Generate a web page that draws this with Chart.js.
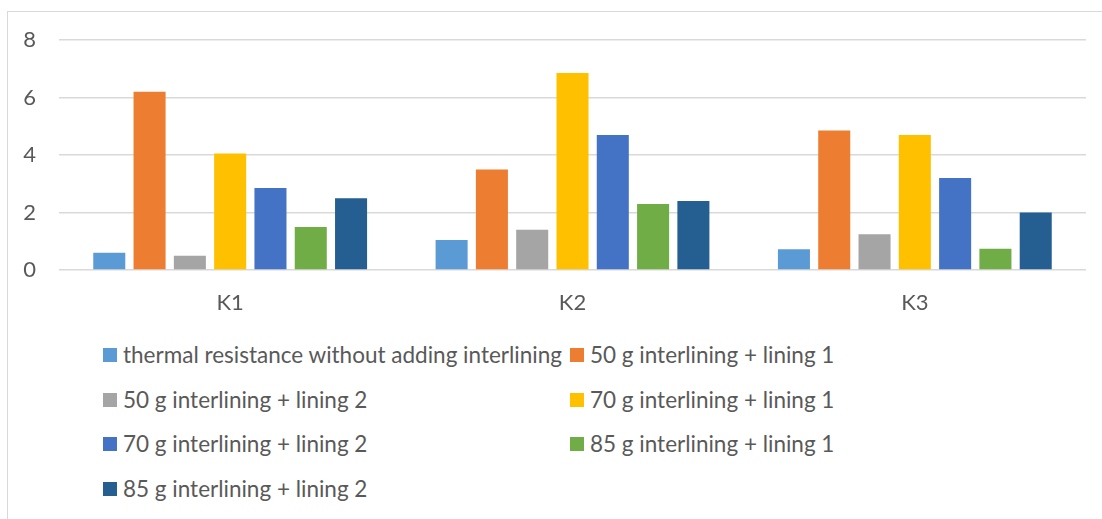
<!DOCTYPE html>
<html lang="en">
<head>
    <meta charset="UTF-8">
    <title>Thermal resistance K1 - K3</title>
    <script src="https://cdn.jsdelivr.net/npm/chart.js"></script>
    <style>
        body { margin: 0; padding: 0; background: #fff; font-family: Lato, sans-serif; }
        #page { position: relative; width: 1102px; height: 519px; overflow: hidden; }
        #frame { position: absolute; left: 7px; top: 11px; width: 1120px; height: 540px; border: 1px solid #d9d9d9; }
        #chart-box { position: absolute; left: 0; top: 0; width: 1102px; height: 330px; }
        .legend-item { position: absolute; height: 26px; line-height: 26px; font-size: 22.5px; color: #595959; white-space: nowrap; }
        .legend-item span.box { position: absolute; left: 0; top: 6px; width: 14px; height: 14px; }
        .legend-item span.txt { position: absolute; left: 20px; top: 0; }
    </style>
</head>
<body>
<div id="page">
    <div id="frame"></div>
    <div id="chart-box"><canvas id="barChart"></canvas></div>
    <div id="legend"></div>
</div>
<script>
    // categories and series (read per sample)
    const categories = ['K1', 'K2', 'K3'];
    const seriesNames = [
        'thermal resistance without adding interlining',
        '50 g interlining + lining 1',
        '50 g interlining + lining 2',
        '70 g interlining + lining 1',
        '70 g interlining + lining 2',
        '85 g interlining + lining 1',
        '85 g interlining + lining 2'
    ];
    const withoutInterlining = [0.6, 1.04, 0.72];
    const g50Lining1 = [6.2, 3.5, 4.85];
    const g50Lining2 = [0.5, 1.4, 1.24];
    const g70Lining1 = [4.05, 6.85, 4.7];
    const g70Lining2 = [2.85, 4.7, 3.2];
    const g85Lining1 = [1.5, 2.3, 0.74];
    const g85Lining2 = [2.5, 2.4, 2.0];
    const yTicks = [0, 2, 4, 6, 8];

    const seriesValues = [withoutInterlining, g50Lining1, g50Lining2, g70Lining1, g70Lining2, g85Lining1, g85Lining2];
    const colors = ['#5B9BD5', '#ED7D31', '#A5A5A5', '#FFC000', '#4472C4', '#70AD47', '#255E91'];

    const textColor = '#595959';
    const gridColor = '#d9d9d9';

    const chart = new Chart(document.getElementById('barChart'), {
        type: 'bar',
        data: {
            labels: categories,
            datasets: seriesNames.map((name, i) => ({
                label: name,
                data: seriesValues[i],
                backgroundColor: colors[i],
                borderWidth: 0,
                categoryPercentage: 0.824,
                barPercentage: 0.795
            }))
        },
        options: {
            responsive: true,
            maintainAspectRatio: false,
            animation: false,
            layout: { padding: { left: 0, right: 16, top: 40, bottom: 0 } },
            plugins: {
                legend: { display: false },
                tooltip: { enabled: false }
            },
            scales: {
                x: {
                    grid: { display: false },
                    border: { display: false },
                    ticks: { color: textColor, font: { family: 'Lato', size: 22 }, padding: 12 },
                    afterFit: scale => { scale.height = 60; }
                },
                y: {
                    min: yTicks[0],
                    max: yTicks[yTicks.length - 1],
                    grid: { color: gridColor, lineWidth: 1.5, drawTicks: false },
                    border: { display: false },
                    afterBuildTicks: scale => { scale.ticks = yTicks.map(v => ({ value: v })); },
                    ticks: { color: textColor, font: { family: 'Lato', size: 22 }, padding: 23 },
                    afterFit: scale => { scale.width = 59; }
                }
            }
        }
    });

    // two-column legend under the plot
    const legend = document.getElementById('legend');
    chart.data.datasets.forEach((ds, i) => {
        const col = i % 2;
        const row = Math.floor(i / 2);
        const item = document.createElement('div');
        item.className = 'legend-item';
        item.style.left = (103 + col * 467) + 'px';
        item.style.top = (342 + row * 44.7) + 'px';
        item.innerHTML = '<span class="box" style="background:' + ds.backgroundColor + '"></span><span class="txt">' + ds.label + '</span>';
        legend.appendChild(item);
    });
</script>
</body>
</html>
